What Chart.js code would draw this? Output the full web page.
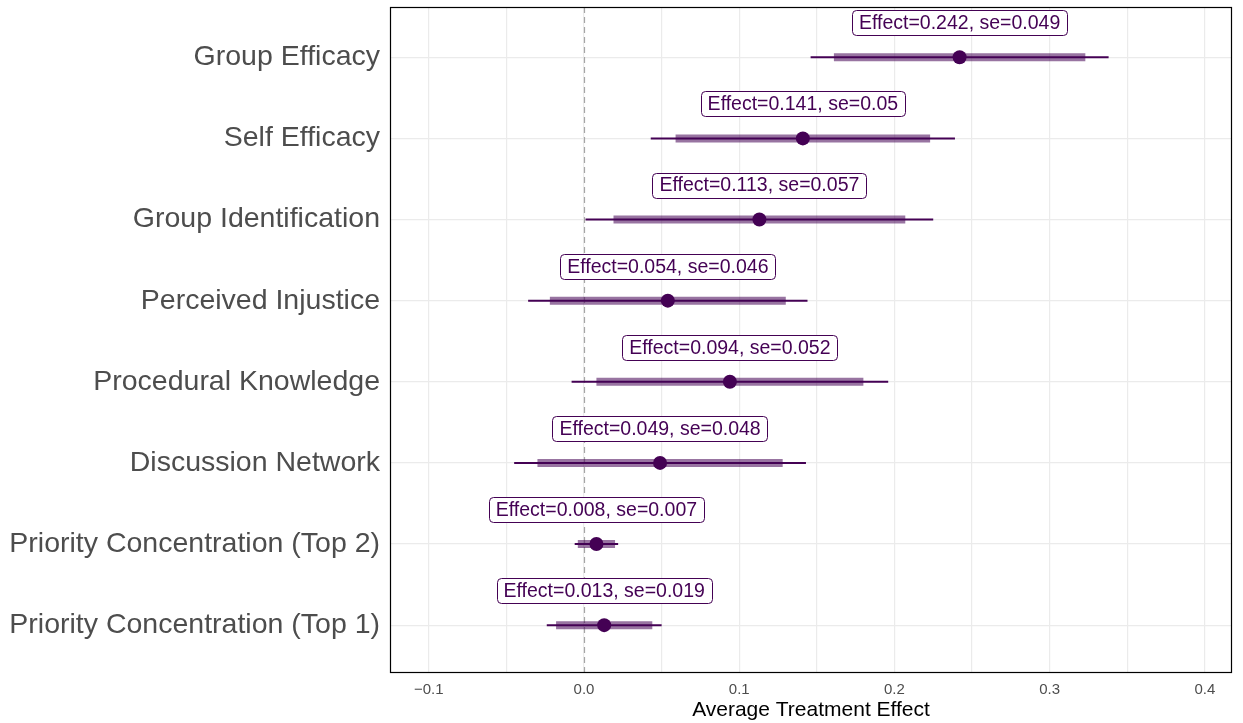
<!DOCTYPE html>
<html>
<head>
<meta charset="utf-8">
<script src="https://cdn.jsdelivr.net/npm/chart.js@4"></script>
<style>
  html, body { margin: 0; padding: 0; background: #fff; }
  #wrap { width: 1243px; height: 723px; }
</style>
</head>
<body>
<div id="wrap"><canvas id="forest" width="1243" height="723"></canvas></div>
<script>
// outcomes, top to bottom
const outcomes = ['Group Efficacy', 'Self Efficacy', 'Group Identification', 'Perceived Injustice',
    'Procedural Knowledge', 'Discussion Network', 'Priority Concentration (Top 2)', 'Priority Concentration (Top 1)'];
const effects = [0.242, 0.141, 0.113, 0.054, 0.094, 0.049, 0.008, 0.013];
const stdErrs = [0.049, 0.05, 0.057, 0.046, 0.052, 0.048, 0.007, 0.019];
// 95% interval (thin line)
const low95 = [0.146, 0.043, 0.001, -0.036, -0.008, -0.045, -0.006, -0.024];
const high95 = [0.338, 0.239, 0.225, 0.144, 0.196, 0.143, 0.022, 0.050];
// 90% interval (thick band)
const low90 = [0.161, 0.059, 0.019, -0.022, 0.008, -0.030, -0.004, -0.018];
const high90 = [0.323, 0.223, 0.207, 0.130, 0.180, 0.128, 0.020, 0.044];
const xMajorTicks = [-0.1, 0.0, 0.1, 0.2, 0.3, 0.4];
const xMinorTicks = [-0.05, 0.05, 0.15, 0.25, 0.35];

const PURPLE = '#440154';
const FONT = '"Liberation Sans", Arial, Helvetica, sans-serif';

const datasets = [];
datasets.push({
    label: 'effect',
    data: effects.map((v, i) => ({ x: v, y: i })),
    pointRadius: 7,
    pointBackgroundColor: PURPLE,
    pointBorderColor: PURPLE,
    pointBorderWidth: 0,
    showLine: false
});
outcomes.forEach((name, i) => {
    datasets.push({
        label: name + ' 90',
        data: [{ x: low90[i], y: i }, { x: high90[i], y: i }],
        showLine: true,
        pointRadius: 0,
        borderColor: 'rgba(68,1,84,0.55)',
        borderWidth: 8,
        borderCapStyle: 'butt'
    });
});
outcomes.forEach((name, i) => {
    datasets.push({
        label: name + ' 95',
        data: [{ x: low95[i], y: i }, { x: high95[i], y: i }],
        showLine: true,
        pointRadius: 0,
        borderColor: PURPLE,
        borderWidth: 2,
        borderCapStyle: 'butt'
    });
});

const panelPlugin = {
    id: 'panel',
    beforeDatasetsDraw(chart) {
        const { ctx, chartArea, scales } = chart;
        const x0 = scales.x.getPixelForValue(0);
        ctx.save();
        ctx.strokeStyle = '#a6a6a6';
        ctx.lineWidth = 1.2;
        ctx.setLineDash([6, 4]);
        ctx.beginPath();
        ctx.moveTo(Math.round(x0) + 0.5, chartArea.top);
        ctx.lineTo(Math.round(x0) + 0.5, chartArea.bottom);
        ctx.stroke();
        ctx.restore();
    },
    afterDatasetsDraw(chart) {
        const { ctx, chartArea, scales } = chart;
        ctx.save();
        ctx.font = '19.5px ' + FONT;
        ctx.textAlign = 'center';
        ctx.textBaseline = 'middle';
        effects.forEach((v, i) => {
            const txt = 'Effect=' + v + ', se=' + stdErrs[i];
            const cx = scales.x.getPixelForValue(v);
            const cy = scales.y.getPixelForValue(i) - 34.5;
            const w = ctx.measureText(txt).width + 14;
            const h = 25;
            ctx.beginPath();
            ctx.roundRect(Math.round(cx - w / 2) + 0.5, Math.round(cy - h / 2) + 0.5, Math.round(w), h, 4);
            ctx.fillStyle = '#fff';
            ctx.fill();
            ctx.strokeStyle = PURPLE;
            ctx.lineWidth = 1;
            ctx.stroke();
            ctx.fillStyle = PURPLE;
            ctx.fillText(txt, cx, cy + 1);
        });
        // panel border
        ctx.strokeStyle = '#000';
        ctx.lineWidth = 1.2;
        ctx.strokeRect(chartArea.left + 0.5, chartArea.top + 0.5, chartArea.width - 1, chartArea.height - 1);
        ctx.restore();
    }
};

new Chart(document.getElementById('forest'), {
    type: 'scatter',
    data: { datasets: datasets },
    options: {
        responsive: false,
        animation: false,
        events: [],
        layout: { padding: { top: 7, right: 11, left: 0, bottom: 0 } },
        plugins: { legend: { display: false }, tooltip: { enabled: false } },
        scales: {
            x: {
                type: 'linear',
                min: -0.125,
                max: 0.4175,
                afterBuildTicks(scale) {
                    scale.ticks = xMajorTicks.concat(xMinorTicks).sort((a, b) => a - b).map(v => ({ value: v }));
                },
                afterFit(scale) {
                    scale.height = 50;
                    scale.paddingLeft = 0;
                    scale.paddingRight = 0;
                },
                grid: {
                    color: '#ebebeb',
                    lineWidth: 1.2,
                    drawTicks: false
                },
                border: { display: false },
                ticks: {
                    padding: 8,
                    maxRotation: 0,
                    autoSkip: false,
                    color: '#4d4d4d',
                    font: { family: FONT, size: 15 },
                    callback(value) {
                        const major = xMajorTicks.find(t => Math.abs(t - value) < 1e-9);
                        if (major === undefined) return '';
                        return (major < 0 ? '\u2212' : '') + Math.abs(major).toFixed(1);
                    }
                },
                title: {
                    display: true,
                    text: 'Average Treatment Effect',
                    color: '#000',
                    font: { family: FONT, size: 21 },
                    padding: { top: 0, bottom: 0 }
                }
            },
            y: {
                type: 'linear',
                reverse: true,
                min: -0.62,
                max: outcomes.length - 1 + 0.59,
                afterBuildTicks(scale) {
                    scale.ticks = outcomes.map((n, i) => ({ value: i }));
                },
                afterFit(scale) {
                    scale.width = 390;
                    scale.paddingTop = 0;
                    scale.paddingBottom = 0;
                },
                grid: {
                    color: '#ebebeb',
                    lineWidth: 1.2,
                    drawTicks: false
                },
                border: { display: false },
                ticks: {
                    padding: 10,
                    autoSkip: false,
                    color: '#4d4d4d',
                    font: { family: FONT, size: 28.5 },
                    callback(value) { return outcomes[value] || ''; }
                }
            }
        }
    },
    plugins: [panelPlugin]
});
</script>
</body>
</html>
